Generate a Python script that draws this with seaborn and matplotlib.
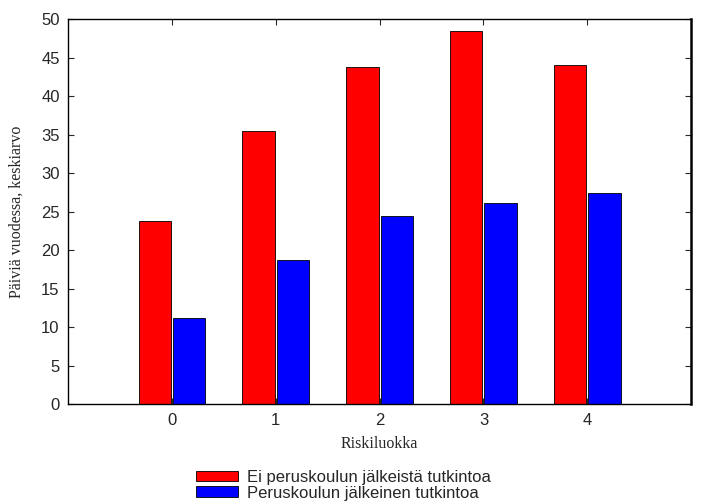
import pandas as pd
import seaborn as sns
import matplotlib.pyplot as plt

# Values
classes = ["0", "1", "2", "3", "4"]
no_degree = [23.8, 35.5, 43.8, 48.4, 44.0]
degree = [11.2, 18.7, 24.5, 26.1, 27.4]
series_names = ["Ei peruskoulun jälkeistä tutkintoa", "Peruskoulun jälkeinen tutkintoa"]

df = pd.DataFrame({
    "Riskiluokka": classes * 2,
    "arvo": no_degree + degree,
    "ryhma": [series_names[0]] * len(classes) + [series_names[1]] * len(classes),
})

sns.set_style("ticks")
plt.rcParams['font.family'] = ['Liberation Sans', 'DejaVu Sans']

fig = plt.figure(figsize=(7.2, 5.04), dpi=100)
ax = fig.add_axes([0.0944, 0.198, 0.8656, 0.764])

sns.barplot(data=df, x="Riskiluokka", y="arvo", hue="ryhma",
            palette=["#ff0000", "#0000ff"], width=0.66, gap=0.06,
            edgecolor="black", linewidth=0.6, saturation=1,
            errorbar=None, ax=ax)

ax.set_xlim(-1, 5)
ax.set_ylim(0, 50)
ax.set_yticks(range(0, 51, 5))
ax.tick_params(direction="in", top=True, right=True, labelsize=12, length=4, pad=6)
for s in ax.spines.values():
    s.set_visible(True)
    s.set_color("black")
    s.set_linewidth(1)
ax.spines["right"].set_linewidth(1.8)

ax.set_xlabel("Riskiluokka", family="Liberation Serif", fontsize=11.5, labelpad=6)
ax.set_ylabel("Päiviä vuodessa, keskiarvo", family="Liberation Serif", fontsize=11.5, labelpad=12)

ax.legend(loc="upper left", bbox_to_anchor=(0.272, 0.068), bbox_transform=fig.transFigure,
          frameon=False, fontsize=12, handlelength=2.5, handleheight=0.6,
          labelspacing=0.05, handletextpad=0.55, borderpad=0, borderaxespad=0)

plt.savefig("out.png", dpi=100)
